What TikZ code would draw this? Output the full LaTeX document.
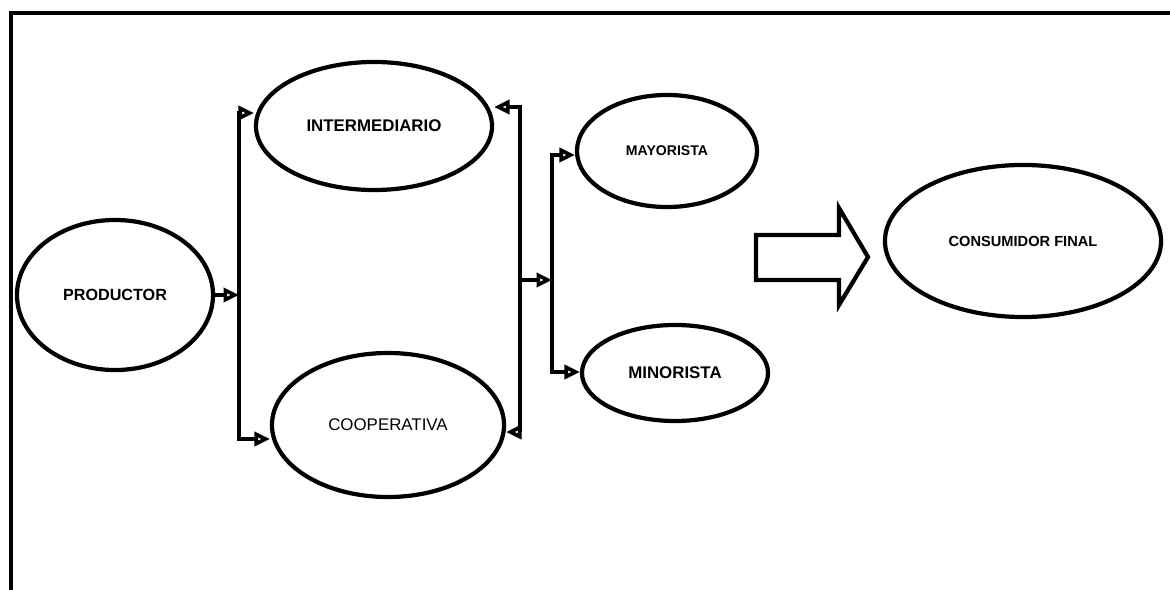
\documentclass[tikz,border=0pt]{standalone}
\usepackage{fontspec}
\setmainfont{Liberation Sans}
\usetikzlibrary{arrows.meta,shapes.geometric}

\begin{document}
\begin{tikzpicture}[x=0.025cm,y=-0.025cm,>={Triangle[open,length=11pt,width=10pt]},
 ell/.style={draw,ellipse,line width=3pt,inner sep=0pt,font=\bfseries},
 wire/.style={line width=2.6pt},
 big/.style={draw,line width=3pt,fill=white,line join=miter}]
\useasboundingbox (0,0) rectangle (1170,590);
\draw[line width=3pt] (1170,13) -- (11,13) -- (11,590);
\node[ell,minimum width=4.9cm,minimum height=3.75cm,font=\bfseries\fontsize{11.5}{13}\selectfont] (prod) at (115,295) {PRODUCTOR};
\node[ell,minimum width=5.9cm,minimum height=3.2cm,font=\bfseries\fontsize{12}{14}\selectfont] (inter) at (374,126) {INTERMEDIARIO};
\node[ell,minimum width=5.8cm,minimum height=3.6cm,font=\fontsize{12}{14}\selectfont] (coop) at (388,425) {COOPERATIVA};
\node[ell,minimum width=4.5cm,minimum height=2.8cm,font=\bfseries\fontsize{10}{12}\selectfont] (mayor) at (667,151) {MAYORISTA};
\node[ell,minimum width=4.65cm,minimum height=2.4cm,font=\bfseries\fontsize{12}{14}\selectfont] (minor) at (675,373) {MINORISTA};
\node[ell,minimum width=6.9cm,minimum height=3.8cm,font=\bfseries\fontsize{10.4}{12}\selectfont] (cons) at (1023,241) {CONSUMIDOR FINAL};
\coordinate (blt) at (239,113);
\coordinate (blm) at (239,295);
\coordinate (blb) at (239,439);
\coordinate (brt) at (520,107);
\coordinate (brm) at (520,280);
\coordinate (brb) at (520,432);
\coordinate (bmt) at (552,155);
\coordinate (bmm) at (552,280);
\coordinate (bmb) at (552,372);
\draw[wire,->] (prod.east |- blm) -- (blm);
\draw[wire,<->] (inter.west |- blt) -- (blt) -- (blb) -- (coop.west |- blb);
\draw[wire,<->] (inter.east |- brt) -- (brt) -- (brb) -- (coop.east |- brb);
\draw[wire,->] (brm) -- (bmm);
\draw[wire,<->] (mayor.west |- bmt) -- (bmt) -- (bmb) -- (minor.west |- bmb);
\draw[big] (756,235) -- (839,235) -- (839,208) -- (868,257) -- (839,305) -- (839,280) -- (756,280) -- cycle;
\end{tikzpicture}
\end{document}
